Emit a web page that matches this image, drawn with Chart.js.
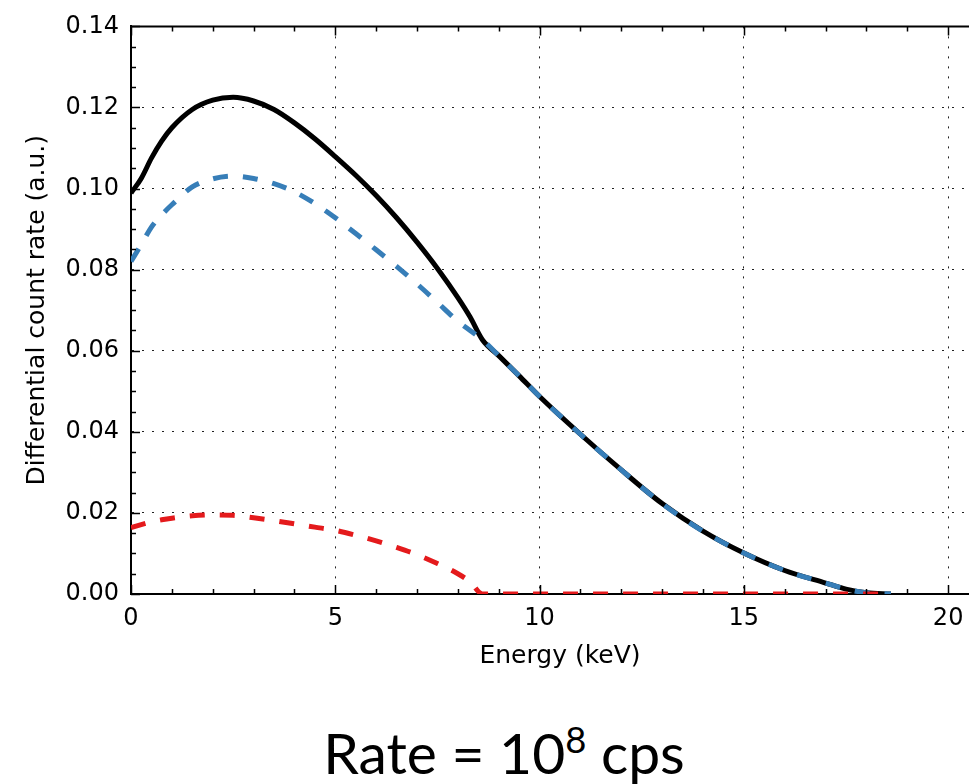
<!DOCTYPE html>
<html>
<head>
<meta charset="utf-8">
<script src="https://cdn.jsdelivr.net/npm/chart.js@4.4.0/dist/chart.umd.min.js"></script>
<style>
    html, body { margin: 0; padding: 0; background: #fff; overflow: hidden; }
    #wrap { position: relative; width: 969px; height: 784px; overflow: hidden; }
    #spectrum { position: absolute; left: 0; top: 0; }
    #caption {
        position: absolute; left: 504px; top: 714px; transform: translateX(-50%);
        white-space: nowrap; font-family: Lato, 'Noto Sans', sans-serif;
        font-size: 57px; line-height: 76px; color: #000;
    }
    #caption sup { font-size: 0.64em; vertical-align: 0.58em; line-height: 0; }
</style>
</head>
<body>
<div id="wrap">
    <canvas id="spectrum" width="989" height="700"></canvas>
    <div id="caption">Rate = 10<sup>8</sup> cps</div>
</div>
<script>
// energy grid (keV)
const energy = [0, 0.25, 0.5, 0.75, 1, 1.5, 2, 2.5, 3, 3.5, 4, 4.5, 5, 5.5, 6, 6.5, 7, 7.5, 8, 8.3, 8.6,
                9, 9.5, 10, 11, 12, 13, 14, 15, 16, 17, 17.5, 18, 18.6];

// total (solid black)
const total = [0.0989, 0.1025, 0.1075, 0.1117, 0.1150, 0.1195, 0.1218, 0.1225, 0.1216, 0.1195, 0.1162, 0.1123, 0.1079,
               0.1033, 0.0983, 0.0928, 0.0868, 0.0803, 0.0731, 0.0683, 0.0627,
               0.0588, 0.0538, 0.0487, 0.0394, 0.0306, 0.0223, 0.0155, 0.0101, 0.0058, 0.0027, 0.0012, 0.0003, 0.0];

// blue dashed
const blueSeries = [0.0820, 0.0862, 0.0905, 0.0935, 0.0960, 0.1004, 0.1024, 0.1031, 0.1025, 0.1012, 0.0992, 0.0963, 0.0928,
                    0.0889, 0.0849, 0.0808, 0.0765, 0.0719, 0.0673, 0.0650, 0.0627,
                    0.0588, 0.0538, 0.0487, 0.0394, 0.0306, 0.0223, 0.0155, 0.0101, 0.0058, 0.0027, 0.0012, 0.0003, 0.0];

// red dashed
const redSeries = [0.0164, 0.0171, 0.0178, 0.0183, 0.0187, 0.0193, 0.0195, 0.0194, 0.0188, 0.0181, 0.0173, 0.0165, 0.0157,
                   0.0145, 0.0131, 0.0115, 0.0097, 0.0075, 0.0050, 0.0030, 0.0,
                   0, 0, 0, 0, 0, 0, 0, 0, 0, 0, 0, 0, 0];

const xTicks = [0, 5, 10, 15, 20];
const yTicks = [0.00, 0.02, 0.04, 0.06, 0.08, 0.10, 0.12, 0.14];
const xMinorStep = 1;
const yMinorStep = 0.005;

const toPoints = (ys) => energy.map((x, i) => ({ x: x, y: ys[i] }));

// inward ticks + top/right frame, like a classic matplotlib axes box
const axesBox = {
    id: 'axesBox',
    afterDraw(chart) {
        const { ctx, chartArea: a, scales: { x, y } } = chart;
        ctx.save();
        ctx.strokeStyle = '#000';
        ctx.lineWidth = 2;
        ctx.beginPath();
        ctx.moveTo(a.left, a.top); ctx.lineTo(a.right, a.top);
        ctx.moveTo(a.right, a.top); ctx.lineTo(a.right, a.bottom);
        ctx.stroke();

        ctx.lineWidth = 1.5;
        ctx.beginPath();
        for (let v = x.min; v <= x.max + 1e-9; v += xMinorStep) {
            const px = Math.round(x.getPixelForValue(v)) + 0.5;
            const len = xTicks.includes(v) ? 9 : 5;
            ctx.moveTo(px, a.bottom); ctx.lineTo(px, a.bottom - len);
            ctx.moveTo(px, a.top); ctx.lineTo(px, a.top + len);
        }
        for (let v = y.min; v <= y.max + 1e-9; v += yMinorStep) {
            const py = Math.round(y.getPixelForValue(v)) + 0.5;
            const major = yTicks.some(t => Math.abs(t - v) < 1e-9);
            const len = major ? 9 : 5;
            ctx.moveTo(a.left, py); ctx.lineTo(a.left + len, py);
            ctx.moveTo(a.right, py); ctx.lineTo(a.right - len, py);
        }
        ctx.stroke();
        ctx.restore();
    }
};

const tickFont = { family: 'DejaVu Sans', size: 24 };
const titleFont = { family: 'DejaVu Sans', size: 25 };

new Chart(document.getElementById('spectrum').getContext('2d'), {
    type: 'line',
    data: {
        datasets: [
            {
                label: 'Total',
                data: toPoints(total),
                borderColor: '#000000',
                borderWidth: 5,
                pointRadius: 0,
                cubicInterpolationMode: 'monotone',
                order: 3
            },
            {
                label: 'Blue',
                data: toPoints(blueSeries),
                borderColor: '#377eb8',
                borderWidth: 5,
                borderDash: [15, 15],
                pointRadius: 0,
                cubicInterpolationMode: 'monotone',
                order: 2
            },
            {
                label: 'Red',
                data: toPoints(redSeries),
                borderColor: '#e41a1c',
                borderWidth: 5,
                borderDash: [15, 15],
                pointRadius: 0,
                cubicInterpolationMode: 'monotone',
                order: 1
            }
        ]
    },
    options: {
        responsive: false,
        animation: false,
        devicePixelRatio: 1,
        layout: { padding: { top: 22, left: 0, right: 0, bottom: 0 } },
        plugins: {
            legend: { display: false },
            tooltip: { enabled: false }
        },
        scales: {
            x: {
                type: 'linear',
                min: 0,
                max: 21,
                afterBuildTicks: (scale) => { scale.ticks = xTicks.map(v => ({ value: v })); },
                afterFit: (scale) => { scale.height = 106; },
                ticks: {
                    color: '#000',
                    font: tickFont,
                    padding: 10,
                    maxRotation: 0,
                    callback: (v) => String(v)
                },
                grid: {
                    color: '#222',
                    lineWidth: 1,
                    drawTicks: false
                },
                border: { display: true, color: '#000', width: 2, dash: [2, 8] },
                title: {
                    display: true,
                    text: 'Energy (keV)',
                    color: '#000',
                    font: titleFont,
                    padding: { top: 29, bottom: 29 }
                }
            },
            y: {
                type: 'linear',
                min: 0,
                max: 0.14,
                afterBuildTicks: (scale) => { scale.ticks = yTicks.map(v => ({ value: v })); },
                afterFit: (scale) => { scale.width = 131; },
                ticks: {
                    color: '#000',
                    font: tickFont,
                    padding: 12,
                    callback: (v) => v.toFixed(2)
                },
                grid: {
                    color: '#222',
                    lineWidth: 1,
                    drawTicks: false
                },
                border: { display: true, color: '#000', width: 2, dash: [2, 8] },
                title: {
                    display: true,
                    text: 'Differential count rate (a.u.)',
                    color: '#000',
                    font: titleFont,
                    padding: { top: 22, bottom: 22 }
                }
            }
        }
    },
    plugins: [axesBox]
});
</script>
</body>
</html>
